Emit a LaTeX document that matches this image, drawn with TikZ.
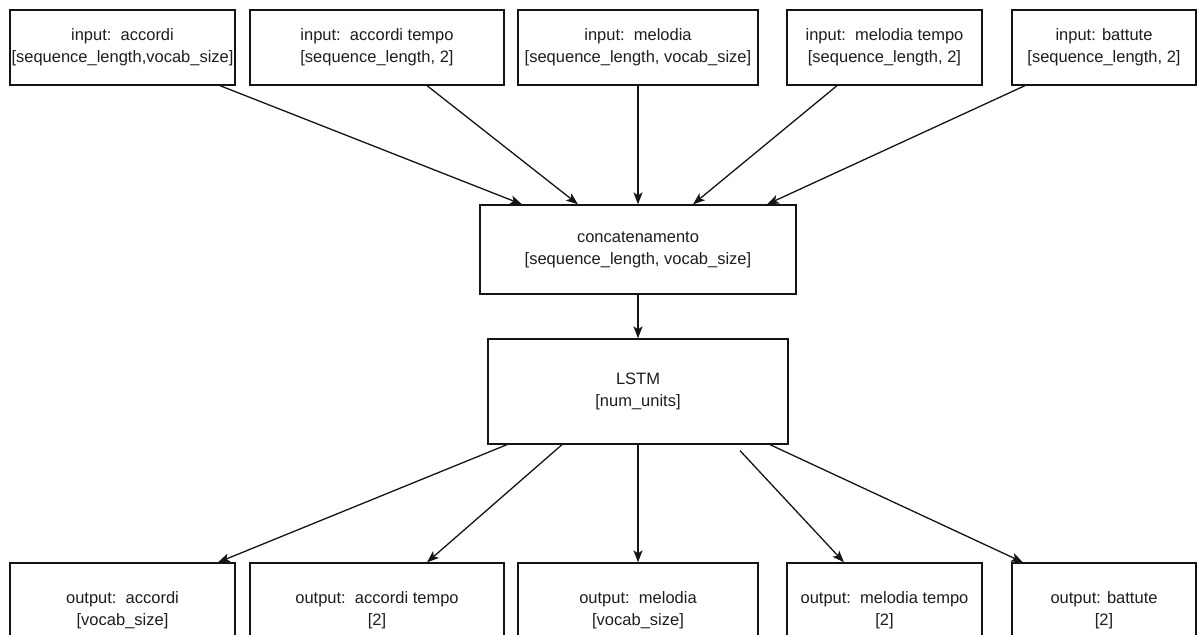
\documentclass[tikz,border=0pt]{standalone}
\usepackage{fontspec}
\setmainfont{Liberation Sans}
\usepackage{tikz}
\usetikzlibrary{arrows.meta,positioning}
\definecolor{boxline}{RGB}{20,20,20}
\definecolor{boxtext}{RGB}{30,30,30}

\begin{document}
\begin{tikzpicture}[x=1pt, y=-1pt,
  font=\fontsize{16.5}{22}\selectfont,
  blok/.style={rectangle, draw=boxline, line width=1.3pt, fill=white, text=boxtext,
               align=center, minimum height=75pt, inner sep=0pt},
  arr/.style={draw=boxline, line width=1.3pt, -{Stealth[length=12pt,width=9pt,inset=3pt]}}]
\useasboundingbox (0,0) rectangle (1198,634);
% inputs
\node[blok, minimum width=225pt] (inAcc)  at (122.5,47.5) {input:\ \ accordi\\{}[sequence\_length,vocab\_size]};
\node[blok, minimum width=254pt] (inAccT) at (377,47.5)   {input:\ \ accordi tempo\\{}[sequence\_length, 2]};
\node[blok, minimum width=240pt] (inMel)  at (638,47.5)   {input:\ \ melodia\\{}[sequence\_length, vocab\_size]};
\node[blok, minimum width=195pt] (inMelT) at (884.5,47.5) {input:\ \ melodia tempo\\{}[sequence\_length, 2]};
\node[blok, minimum width=184pt] (inBat)  at (1104,47.5)  {input: battute\\{}[sequence\_length, 2]};
% middle
\node[blok, minimum width=316pt, minimum height=89pt]  (concat) at (638,249.5) {concatenamento\\{}[sequence\_length, vocab\_size]};
\node[blok, minimum width=300pt, minimum height=105pt] (lstm)   at (638,391.5) {LSTM\\{}[num\_units]};
% outputs
\node[blok, minimum width=225pt, minimum height=95pt] (outAcc)  at (122.5,610.5) {output:\ \ accordi\\{}[vocab\_size]};
\node[blok, minimum width=254pt, minimum height=95pt] (outAccT) at (377,610.5)   {output:\ \ accordi tempo\\{}[2]};
\node[blok, minimum width=240pt, minimum height=95pt] (outMel)  at (638,610.5)   {output:\ \ melodia\\{}[vocab\_size]};
\node[blok, minimum width=195pt, minimum height=95pt] (outMelT) at (884.5,610.5) {output:\ \ melodia tempo\\{}[2]};
\node[blok, minimum width=184pt, minimum height=95pt] (outBat)  at (1104,610.5)  {output: battute\\{}[2]};

\draw[arr] ([xshift=97.5pt]inAcc.south)  -- ([xshift=-116pt]concat.north);
\draw[arr] ([xshift=50pt]inAccT.south)   -- ([xshift=-60pt]concat.north);
\draw[arr] (inMel.south)                 -- (inMel.south |- concat.north);
\draw[arr] ([xshift=-47.5pt]inMelT.south) -- ([xshift=55pt]concat.north);
\draw[arr] ([xshift=-79pt]inBat.south)   -- ([xshift=129pt]concat.north);

\draw[arr] (concat.south) -- (lstm.north);

\draw[arr] ([xshift=-131pt]lstm.south)            -- ([xshift=95.5pt]outAcc.north);
\draw[arr] ([xshift=-76pt]lstm.south)             -- ([xshift=50pt]outAccT.north);
\draw[arr] (outMel.north |- lstm.south)           -- (outMel.north);
\draw[arr] ([xshift=102pt,yshift=-6pt]lstm.south) -- ([xshift=-40.5pt]outMelT.north);
\draw[arr] ([xshift=132pt]lstm.south)             -- ([xshift=-81pt]outBat.north);
\end{tikzpicture}
\end{document}
